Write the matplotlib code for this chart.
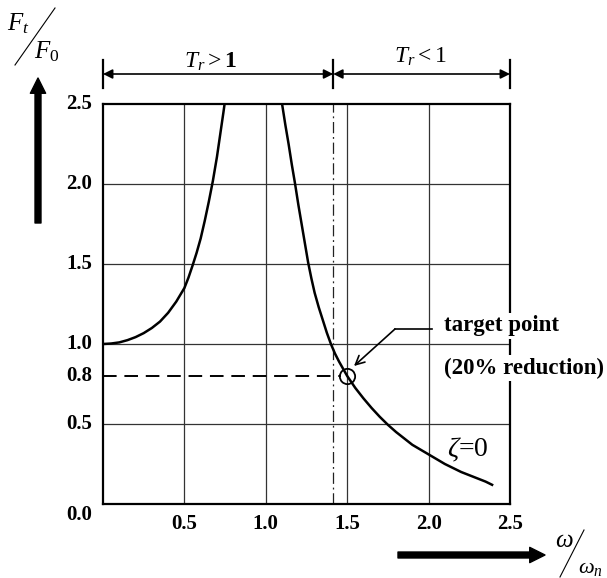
import numpy as np
import matplotlib
matplotlib.use('Agg')
import matplotlib.pyplot as plt
from matplotlib.lines import Line2D

plt.rcParams['font.family'] = 'Liberation Serif'
plt.rcParams['mathtext.fontset'] = 'custom'
plt.rcParams['mathtext.rm'] = 'Liberation Serif'
plt.rcParams['mathtext.it'] = 'Liberation Serif:italic'
plt.rcParams['mathtext.bf'] = 'Liberation Serif:bold'

# Data (zeta = 0 transmissibility curve)
left_ratio = [0.0, 0.05, 0.10, 0.15, 0.20, 0.25, 0.30, 0.35, 0.40, 0.45,
              0.50, 0.525, 0.55, 0.575, 0.60, 0.625, 0.65, 0.675, 0.70,
              0.72, 0.74, 0.755]
left_tr = [1.00, 1.003, 1.01, 1.024, 1.043, 1.068, 1.10, 1.14, 1.195, 1.265,
           1.35, 1.415, 1.49, 1.57, 1.66, 1.77, 1.89, 2.02, 2.17,
           2.31, 2.45, 2.56]
right_ratio = [1.09, 1.10, 1.12, 1.14, 1.16, 1.18, 1.20, 1.22, 1.24, 1.26,
               1.28, 1.30, 1.325, 1.35, 1.375, 1.40, 1.425, 1.45, 1.475, 1.50,
               1.55, 1.60, 1.65, 1.70, 1.75, 1.80, 1.85, 1.90, 1.95, 2.00,
               2.05, 2.10, 2.15, 2.20, 2.25, 2.30, 2.35, 2.39]
right_tr = [2.56, 2.50, 2.37, 2.25, 2.12, 2.00, 1.87, 1.75, 1.63, 1.51,
            1.41, 1.32, 1.23, 1.15, 1.07, 1.00, 0.94, 0.89, 0.845, 0.80,
            0.725, 0.66, 0.60, 0.545, 0.495, 0.45, 0.41, 0.37, 0.34, 0.31,
            0.28, 0.25, 0.225, 0.20, 0.18, 0.16, 0.14, 0.12]

x_ticks = [0.5, 1.0, 1.5, 2.0, 2.5]
y_ticks = [0.5, 0.8, 1.0, 1.5, 2.0, 2.5]
grid_vals = [0.5, 1.0, 1.5, 2.0]
boundary = 1.414
target = (1.5, 0.8)

W, H = 607, 578


def px(x, y):
    return x / W, 1 - y / H


fig = plt.figure(figsize=(W / 100, H / 100), dpi=100)
ax = fig.add_axes([103 / W, 1 - 504 / H, (510 - 103) / W, (504 - 104) / H])
ax.set_xlim(0, 2.5)
ax.set_ylim(0, 2.5)

for g in grid_vals:
    ax.axvline(g, color='#333333', lw=0.9, zorder=1)
    ax.axhline(g, color='#333333', lw=0.9, zorder=1)

for s in ax.spines.values():
    s.set_linewidth(1.6)

ax.plot(left_ratio, left_tr, color='black', lw=1.8, zorder=3,
        solid_joinstyle='round')
ax.plot(right_ratio, right_tr, color='black', lw=1.8, zorder=3,
        solid_joinstyle='round')

ax.axvline(boundary, color='#222222', lw=0.9, ls=(0, (9, 3, 1.5, 3)), zorder=2)
ax.plot([0, target[0] - 0.04], [target[1], target[1]], color='black', lw=1.4,
        ls=(0, (7, 4)), zorder=2)
ax.plot(target[0], target[1], 'o', ms=11, mfc='none', mec='black', mew=1.3, zorder=4)

ax.set_xticks([])
ax.set_yticks([])

# tick labels
lab_font = dict(fontsize=15, fontweight='bold', family='Liberation Serif')
for v in x_ticks:
    ax.text(v, -0.06, f'{v:.1f}', ha='center', va='top', **lab_font)
for v in y_ticks:
    ax.text(-0.065, v, f'{v:.1f}', ha='right', va='center', **lab_font)
ax.text(-0.065, -0.07, '0.0', ha='right', va='center', **lab_font)

# region brackets above the plot
br_y = 1.075
for xa, xb in [(0, boundary), (boundary, 2.5)]:
    ax.annotate('', xy=(xa, br_y), xytext=(xb, br_y),
                xycoords=('data', 'axes fraction'),
                arrowprops=dict(arrowstyle='<|-|>', color='black', lw=1.2,
                                mutation_scale=14, shrinkA=0, shrinkB=0))
for xv in [0, boundary, 2.5]:
    ax.add_line(Line2D([xv, xv], [1.04, 1.11], color='black', lw=1.6,
                       transform=ax.get_xaxis_transform(), clip_on=False))
ax.text(0.66, 1.105, r'$T_r>\mathbf{1}$', ha='center', va='center', fontsize=17,
        transform=ax.get_xaxis_transform())
ax.text(1.95, 1.118, r'$T_r<1$', ha='center', va='center', fontsize=17,
        transform=ax.get_xaxis_transform())

# target annotation
ax.annotate('', xy=px(354, 366), xytext=px(395, 329), xycoords='figure fraction',
            arrowprops=dict(arrowstyle='->', color='black', lw=1.2, mutation_scale=16,
                            shrinkA=0, shrinkB=0))
fig.add_artist(Line2D([395 / W, 432 / W], [1 - 329 / H, 1 - 329 / H], color='black', lw=1.2))
fig.text(*px(444, 326), 'target point', ha='left', va='center', fontsize=16.5,
         fontweight='bold', bbox=dict(fc='white', ec='none', pad=2))
fig.text(*px(444, 368), '(20% reduction)', ha='left', va='center', fontsize=16.5,
         fontweight='bold', bbox=dict(fc='white', ec='none', pad=2))

ax.text(2.115, 0.34, r'$\zeta$=0', ha='left', va='center', fontsize=20)

# axis labels with arrows
arrow_style = 'simple,head_width=1.1,head_length=1.1,tail_width=0.43'
ax.annotate('', xy=px(38, 78), xytext=px(38, 223), xycoords='figure fraction',
            arrowprops=dict(arrowstyle=arrow_style, color='black',
                            mutation_scale=10, shrinkA=0, shrinkB=0))
ax.annotate('', xy=px(545, 555), xytext=px(398, 555), xycoords='figure fraction',
            arrowprops=dict(arrowstyle=arrow_style, color='black',
                            mutation_scale=10, shrinkA=0, shrinkB=0))

fig.text(*px(18, 24), r'$F_t$', ha='center', va='center', fontsize=18)
fig.add_artist(Line2D([15 / W, 55 / W], [1 - 65 / H, 1 - 8 / H], color='black', lw=0.8))
fig.text(*px(47, 52), r'$F_0$', ha='center', va='center', fontsize=18)

fig.text(*px(564, 541), r'$\omega$', ha='center', va='center', fontsize=18)
fig.add_artist(Line2D([560 / W, 584 / W], [1 - 577 / H, 1 - 530 / H], color='black', lw=0.8))
fig.text(*px(578, 569), r'$\omega_n$', ha='left', va='center', fontsize=16)

fig.savefig('out.png', dpi=100, facecolor='white')
